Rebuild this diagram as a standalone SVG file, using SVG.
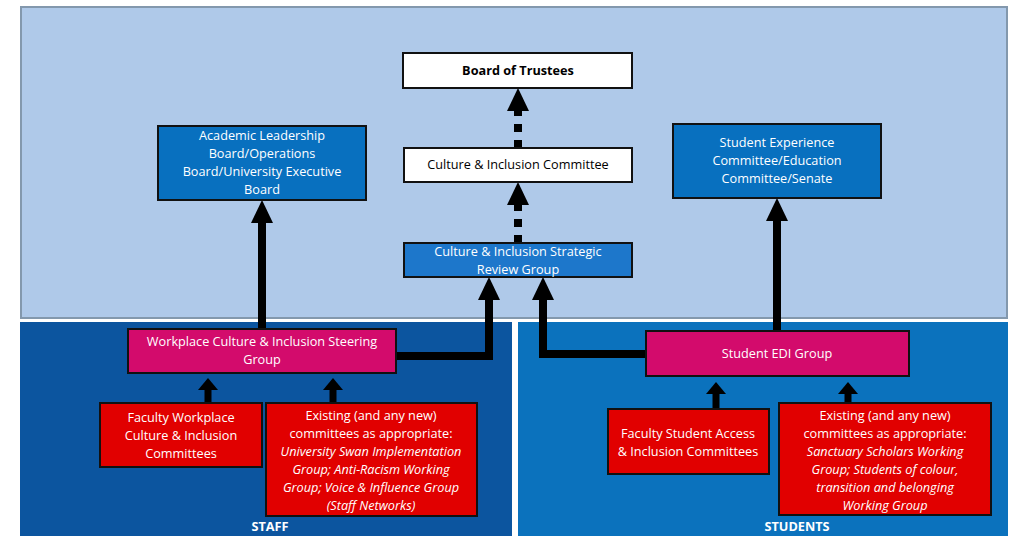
<svg xmlns="http://www.w3.org/2000/svg" width="1011" height="536" viewBox="0 0 1011 536">
<style>
text{font-family:"Open Sans","Liberation Sans",sans-serif;font-size:12.7px;text-anchor:middle;fill:#fff}
.dk{fill:#000}
.b{font-weight:bold}
.i{font-style:italic}
.box{stroke:#111;stroke-width:2}
.white{fill:#fff}
.blue{fill:#0870bf}
.blue2{fill:#1d77cb}
.mag{fill:#d30b6c}
.red{fill:#e10000}
.conn{fill:none;stroke:#000;stroke-width:8}
.thin{fill:none;stroke:#000;stroke-width:7}
</style>
<defs>
<marker id="ah" viewBox="0 -11 23 22" refX="0" refY="0" markerWidth="23" markerHeight="22" markerUnits="userSpaceOnUse" orient="auto"><path d="M0,-11 L23,0 L0,11 z" fill="#000"/></marker>
<marker id="ahs" viewBox="0 -10 12 20" refX="0" refY="0" markerWidth="12" markerHeight="20" markerUnits="userSpaceOnUse" orient="auto"><path d="M0,-10 L12,0 L0,10 z" fill="#000"/></marker>
</defs>
<rect width="1011" height="536" fill="#fff"/>
<g id="panels">
<rect x="21" y="7" width="986" height="311" fill="#afc9e9" stroke="#8398ad" stroke-width="2"/>
<rect x="20" y="322" width="492" height="214" fill="#0c559f"/>
<rect x="518" y="322" width="490" height="214" fill="#0b72bd"/>
<text x="270" y="531" class="b">STAFF</text>
<text x="797" y="531" class="b">STUDENTS</text>
</g>
<g id="connectors">
<line x1="518" y1="148" x2="518" y2="111" class="conn" stroke-dasharray="8 8" marker-end="url(#ah)"/>
<line x1="518" y1="243" x2="518" y2="205" class="conn" stroke-dasharray="8 8" marker-end="url(#ah)"/>
<line x1="262" y1="329" x2="262" y2="223" class="conn" marker-end="url(#ah)"/>
<line x1="777" y1="331" x2="777" y2="221" class="conn" marker-end="url(#ah)"/>
<polyline points="396,356 489,356 489,300" class="conn" marker-end="url(#ah)"/>
<polyline points="646,354 543,354 543,300" class="conn" marker-end="url(#ah)"/>
<line x1="208" y1="403" x2="208" y2="390" class="thin" marker-end="url(#ahs)"/>
<line x1="333" y1="403" x2="333" y2="390" class="thin" marker-end="url(#ahs)"/>
<line x1="716" y1="409" x2="716" y2="394" class="thin" marker-end="url(#ahs)"/>
<line x1="848" y1="403" x2="848" y2="394" class="thin" marker-end="url(#ahs)"/>
</g>
<g id="board-of-trustees">
<rect x="403" y="53" width="229" height="35" class="box white"/>
<text x="518" y="75" class="dk b">Board of Trustees</text>
</g>
<g id="culture-inclusion-committee">
<rect x="404" y="148" width="228" height="34" class="box white"/>
<text x="518" y="169" class="dk">Culture &amp; Inclusion Committee</text>
</g>
<g id="strategic-review-group">
<rect x="404" y="243" width="228" height="34" class="box blue2"/>
<text x="518" y="256">Culture &amp; Inclusion Strategic</text>
<text x="518" y="274">Review Group</text>
</g>
<g id="academic-leadership">
<rect x="158" y="126" width="208" height="74" class="box blue"/>
<text x="262" y="140">Academic Leadership</text>
<text x="262" y="158">Board/Operations</text>
<text x="262" y="176">Board/University Executive</text>
<text x="262" y="194">Board</text>
</g>
<g id="student-experience">
<rect x="673" y="124" width="208" height="74" class="box blue"/>
<text x="777" y="147">Student Experience</text>
<text x="777" y="165">Committee/Education</text>
<text x="777" y="183">Committee/Senate</text>
</g>
<g id="workplace-steering">
<rect x="128" y="329" width="268" height="44" class="box mag"/>
<text x="262" y="346">Workplace Culture &amp; Inclusion Steering</text>
<text x="262" y="364">Group</text>
</g>
<g id="student-edi">
<rect x="646" y="331" width="263" height="45" class="box mag"/>
<text x="777" y="358">Student EDI Group</text>
</g>
<g id="faculty-workplace">
<rect x="100" y="403" width="162" height="64" class="box red"/>
<text x="181" y="422">Faculty Workplace</text>
<text x="181" y="440">Culture &amp; Inclusion</text>
<text x="181" y="458">Committees</text>
</g>
<g id="existing-staff">
<rect x="266" y="403" width="211" height="113" class="box red"/>
<text x="371" y="420">Existing (and any new)</text>
<text x="371" y="438">committees as appropriate:</text>
<text x="371" y="456" class="i">University Swan Implementation</text>
<text x="371" y="474" class="i">Group; Anti-Racism Working</text>
<text x="371" y="492" class="i">Group; Voice &amp; Influence Group</text>
<text x="371" y="510" class="i">(Staff Networks)</text>
</g>
<g id="faculty-student-access">
<rect x="608" y="409" width="161" height="65" class="box red"/>
<text x="688" y="438">Faculty Student Access</text>
<text x="688" y="456">&amp; Inclusion Committees</text>
</g>
<g id="existing-students">
<rect x="779" y="403" width="212" height="112" class="box red"/>
<text x="885" y="420">Existing (and any new)</text>
<text x="885" y="438">committees as appropriate:</text>
<text x="885" y="456" class="i">Sanctuary Scholars Working</text>
<text x="885" y="474" class="i">Group; Students of colour,</text>
<text x="885" y="492" class="i">transition and belonging</text>
<text x="885" y="510" class="i">Working Group</text>
</g>
</svg>
